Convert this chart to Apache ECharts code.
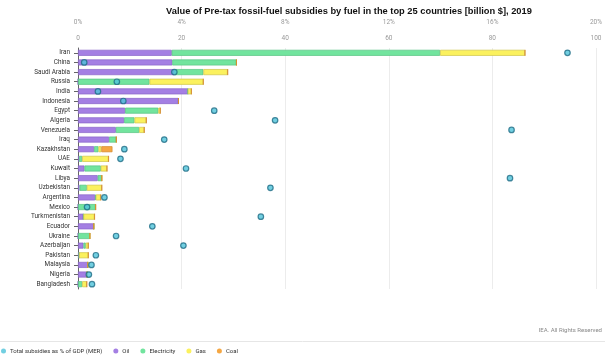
<!DOCTYPE html>
<html><head><meta charset="utf-8">
<script src="https://cdn.jsdelivr.net/npm/echarts@6/dist/echarts.min.js"></script>
<style>html,body{margin:0;padding:0;background:#fff}#c{width:605px;height:356px}</style>
</head><body><div id="c"></div>
<script>
const countries = ['Iran','China','Saudi Arabia','Russia','India','Indonesia','Egypt','Algeria','Venezuela','Iraq','Kazakhstan','UAE','Kuwait','Libya','Uzbekistan','Argentina','Mexico','Turkmenistan','Ecuador','Ukraine','Azerbaijan','Pakistan','Malaysia','Nigeria','Bangladesh'];
const oil = [18.1, 18.2, 18.6, 0, 21.2, 19.4, 9.1, 8.9, 7.3, 6.0, 3.1, 0.2, 1.25, 3.8, 0.3, 3.3, 0, 1.05, 3.05, 0, 1.05, 0.2, 1.9, 1.75, 0];
const electricity = [51.8, 12.4, 5.6, 13.8, 0, 0, 6.4, 2.0, 4.5, 1.4, 0.85, 0.6, 3.15, 0.8, 1.4, 0.15, 3.4, 0, 0, 2.3, 0.45, 0, 0, 0, 0.8];
const gas = [16.4, 0, 4.7, 10.4, 0.7, 0, 0.4, 2.3, 1.0, 0, 0.55, 5.1, 1.2, 0, 2.9, 0.95, 0, 2.15, 0, 0, 0.5, 1.8, 0, 0, 0.9];
const coal = [0, 0, 0, 0, 0, 0, 0, 0, 0, 0, 2.15, 0, 0, 0, 0, 0, 0, 0, 0, 0, 0, 0, 0, 0, 0];
const pctGDP = [18.9, 0.24, 3.72, 1.5, 0.77, 1.75, 5.26, 7.61, 16.74, 3.33, 1.79, 1.64, 4.17, 16.68, 7.43, 1.02, 0.35, 7.06, 2.87, 1.47, 4.07, 0.69, 0.52, 0.42, 0.54];
const valueTicks = [0, 20, 40, 60, 80, 100];
const pctTicks = [0, 4, 8, 12, 16, 20];

const chart = echarts.init(document.getElementById('c'), null, {renderer: 'canvas'});
const font = 'Roboto, "Liberation Sans", sans-serif';
function barSeries(name, data, color, border) {
  return {
    name: name, type: 'bar', stack: 'total', xAxisIndex: 0, yAxisIndex: 0,
    data: data, barWidth: 6,
    itemStyle: {color: color, borderColor: border, borderWidth: 0.7},
    emphasis: {disabled: true}
  };
}
chart.setOption({
  animation: false,
  textStyle: {fontFamily: font},
  title: {
    text: 'Value of Pre-tax fossil-fuel subsidies by fuel in the top 25 countries [billion $], 2019',
    left: 344, top: 2, textAlign: 'center',
    textStyle: {fontSize: 9.3, fontWeight: 'bold', color: '#111', fontFamily: '"Liberation Sans", Arial, sans-serif'}
  },
  grid: {left: 78, right: 8, top: 48, bottom: 67, containLabel: false},
  legend: {
    left: 1, top: 348, padding: 0, itemWidth: 5, itemHeight: 5, itemGap: 11, icon: 'circle',
    itemStyle: {borderWidth: 0},
    textStyle: {fontSize: 6, color: '#333', fontFamily: font, padding: [0, 0, 0, -1]},
    data: ['Total subsidies as % of GDP (MER)', 'Oil', 'Electricity', 'Gas', 'Coal']
  },
  graphic: [
    {type: 'line', shape: {x1: 0, y1: 341.5, x2: 605, y2: 341.5}, style: {stroke: '#e6e6e6', lineWidth: 1}},
    {type: 'text', right: 3, top: 327, style: {text: 'IEA. All Rights Reserved', fontSize: 6, fill: '#888', fontFamily: font}}
  ],
  xAxis: [
    {type: 'value', position: 'top', min: valueTicks[0], max: valueTicks[valueTicks.length - 1], interval: 20,
     axisLine: {show: false}, axisTick: {show: false},
     axisLabel: {fontSize: 6.5, color: '#999', margin: 6},
     splitLine: {show: true, lineStyle: {color: '#ececec', width: 1}}},
    {type: 'value', position: 'top', offset: 16, min: pctTicks[0], max: pctTicks[pctTicks.length - 1], interval: 4,
     axisLine: {show: false}, axisTick: {show: false},
     axisLabel: {fontSize: 6.5, color: '#999', margin: 6, formatter: '{value}%'},
     splitLine: {show: false}}
  ],
  yAxis: [{
    type: 'category', data: countries, inverse: true,
    axisLine: {show: true, lineStyle: {color: '#666', width: 1}},
    axisTick: {show: true, alignWithLabel: true, length: 4, lineStyle: {color: '#666'}},
    axisLabel: {fontSize: 6.4, color: '#333', margin: 8}
  }],
  series: [
    barSeries('Oil', oil, '#a47fe3', '#8a66c8'),
    barSeries('Electricity', electricity, '#72e49e', '#58c382'),
    barSeries('Gas', gas, '#fbf15e', '#cfc44a'),
    barSeries('Coal', coal, '#f5a743', '#d48a2c'),
    {
      name: 'Total subsidies as % of GDP (MER)', type: 'scatter', xAxisIndex: 1, yAxisIndex: 0,
      data: pctGDP, symbol: 'circle', symbolSize: 5.5, z: 5,
      itemStyle: {color: '#4fc3da', borderColor: '#1f6d86', borderWidth: 1.2}
    }
  ]
});
</script>
</body></html>
